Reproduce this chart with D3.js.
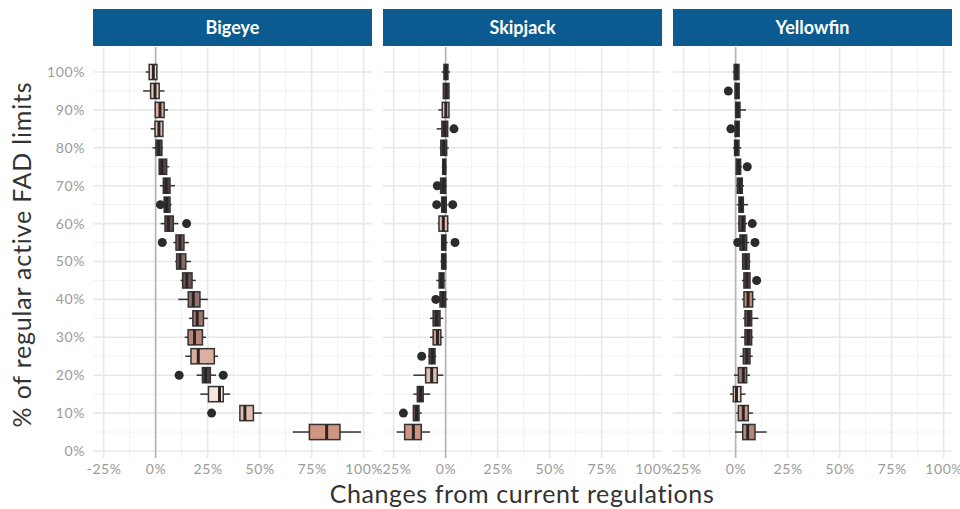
<!DOCTYPE html>
<html>
<head>
<meta charset="utf-8">
<script src="https://cdn.jsdelivr.net/npm/d3@7"></script>
<style>
  body { margin: 0; background: #fff; }
  svg { display: block; font-family: Lato, "Open Sans", sans-serif; }
</style>
</head>
<body>
<div id="chart"></div>
<script>
// FAD limit levels (% of regular active limits)
var levels = [5, 10, 15, 20, 25, 30, 35, 40, 45, 50, 55, 60, 65, 70, 75, 80, 85, 90, 95, 100];
var species = ["Bigeye", "Skipjack", "Yellowfin"];
var xTicks = [-25, 0, 25, 50, 75, 100];
var yTicks = [0, 10, 20, 30, 40, 50, 60, 70, 80, 90, 100];

// [lower whisker, q1, median, q3, upper whisker] per level, in %
var bigeyeStats = [
  [65.9, 73.9, 82.2, 88.6, 98.7], [40.5, 40.5, 42.9, 47.0, 51.0], [21.5, 25.4, 30.7, 32.5, 35.8],
  [19.7, 22.5, 24.0, 26.3, 29.0], [14.3, 17.0, 20.5, 28.2, 30.0], [14.0, 15.6, 18.7, 22.5, 24.2],
  [16.0, 17.9, 20.0, 23.0, 25.1], [10.9, 15.7, 18.1, 21.3, 25.1], [12.0, 13.0, 15.0, 17.5, 19.3],
  [9.3, 10.1, 11.7, 14.5, 17.0], [8.5, 9.8, 11.7, 13.6, 16.0], [2.4, 4.5, 6.1, 8.5, 10.9],
  [4.0, 4.1, 5.3, 6.9, 7.7], [2.1, 3.7, 5.0, 6.9, 9.3], [1.7, 1.7, 3.0, 5.3, 6.5],
  [-1.5, 0.2, 1.5, 3.0, 3.6], [-2.4, -0.3, 1.6, 3.5, 3.5], [-0.2, -0.2, 2.1, 4.1, 6.0],
  [-6.0, -2.4, -0.3, 1.7, 4.3], [-4.8, -3.1, -1.1, 0.6, 0.6]
];
var skipjackStats = [
  [-23.5, -19.7, -15.5, -11.7, -7.5], [-15.5, -15.5, -14.0, -12.8, -11.5], [-15.5, -13.6, -12.1, -10.8, -7.4],
  [-15.5, -9.6, -6.7, -4.0, -1.1], [-8.5, -7.9, -6.3, -5.1, -4.5], [-7.5, -6.0, -3.9, -2.3, -1.1],
  [-7.5, -6.0, -4.3, -2.7, -1.1], [-3.5, -2.7, -1.3, 0.0, 1.0], [-4.5, -3.1, -1.9, -0.8, 0.0],
  [-2.5, -1.9, -0.9, 0.1, 0.5], [-2.2, -1.9, -0.9, 0.1, 1.0], [-3.8, -3.2, -1.1, 1.0, 1.5],
  [-2.5, -1.9, -0.9, 0.3, 1.0], [-2.4, -2.4, -1.0, 0.1, 0.5], [-1.8, -1.4, -0.7, 0.1, 0.5],
  [-2.8, -2.3, -0.9, 0.5, 1.5], [-4.3, -1.8, -0.4, 1.0, 1.0], [-3.5, -1.6, 0.1, 1.6, 1.6],
  [-1.1, -1.1, 0.3, 1.6, 1.6], [-1.9, -0.8, 0.1, 1.1, 2.1]
];
var yellowfinStats = [
  [-0.3, 3.4, 5.8, 9.3, 14.9], [0.3, 1.3, 3.7, 6.1, 8.3], [-2.7, -1.1, 0.4, 2.5, 4.8],
  [-0.8, 1.3, 3.7, 5.3, 6.9], [2.0, 3.7, 5.4, 6.9, 8.2], [2.5, 4.5, 6.1, 7.7, 8.5],
  [3.5, 4.5, 6.3, 7.7, 11.0], [3.0, 4.0, 6.0, 8.2, 9.5], [3.0, 4.0, 5.4, 6.9, 6.9],
  [3.0, 3.4, 5.0, 6.5, 7.2], [2.1, 2.1, 3.7, 5.3, 6.5], [1.0, 1.6, 3.4, 4.5, 5.5],
  [0.5, 1.6, 2.6, 3.7, 6.0], [0.3, 0.8, 2.1, 3.2, 4.0], [0.3, 0.3, 1.4, 2.4, 3.0],
  [-1.3, -0.5, 0.4, 1.6, 2.7], [-0.3, -0.3, 0.8, 1.7, 2.0], [0.0, 0.0, 0.9, 2.1, 5.0],
  [-0.3, -0.3, 0.8, 1.7, 1.7], [-1.4, -0.7, 0.4, 1.6, 1.6]
];

// outliers: [level, value]
var bigeyeOutliers = [[10, 26.9], [20, 11.3], [20, 32.5], [55, 3.2], [60, 14.9], [65, 2.3]];
var skipjackOutliers = [[10, -20.3], [25, -11.5], [40, -4.7], [55, 4.5], [65, -4.3], [65, 3.4], [70, -4.0], [85, 4.0]];
var yellowfinOutliers = [[45, 10.1], [55, 1.0], [55, 9.3], [60, 8.0], [75, 5.6], [85, -2.3], [95, -3.5]];

// fill shade per level (0 = dark, 1 = light peach)
var bigeyeShade = [0.7, 0.85, 1.0, 0.1, 0.8, 0.6, 0.5, 0.45, 0.25, 0.4, 0.3, 0.2, 0.1, 0.1, 0.15, 0.15, 0.85, 0.8, 0.9, 0.95];
var skipjackShade = [0.7, 0.2, 0.1, 0.85, 0.1, 0.7, 0.1, 0.1, 0.1, 0.1, 0.1, 0.85, 0.1, 0.1, 0.1, 0.1, 0.1, 0.9, 0.2, 0.1];
var yellowfinShade = [0.6, 0.7, 0.95, 0.5, 0.2, 0.15, 0.15, 0.65, 0.2, 0.15, 0.15, 0.2, 0.1, 0.1, 0.1, 0.1, 0.1, 0.15, 0.1, 0.15];

var statsBySpecies = [bigeyeStats, skipjackStats, yellowfinStats];
var outliersBySpecies = [bigeyeOutliers, skipjackOutliers, yellowfinOutliers];
var shadeBySpecies = [bigeyeShade, skipjackShade, yellowfinShade];

var width = 960, height = 509;
var panelLeft = [93, 383, 673], panelW = 279;
var stripTop = 9, stripH = 37;
var panelTop = 47, panelBottom = 458;

var svg = d3.select("#chart").append("svg")
  .attr("width", width)
  .attr("height", height);

var y = d3.scaleLinear().domain([-1.85, 106.6]).range([panelBottom, panelTop]);
var boxH = (y(0) - y(5)) * 0.8;

var shadeColor = d3.scaleLinear()
  .domain([0, 0.35, 0.7, 1])
  .range(["#3b3333", "#7d6260", "#cf9482", "#f7e6dc"]);

var pct = function(d) { return d + "%"; };

species.forEach(function(name, i) {
  var x = d3.scaleLinear().domain([-30.1, 104]).range([panelLeft[i], panelLeft[i] + panelW]);
  var g = svg.append("g");

  // minor grid
  var minorX = [-12.5, 12.5, 37.5, 62.5, 87.5];
  var minorY = d3.range(5, 100, 10);
  g.selectAll(".mx").data(minorX).enter().append("line")
    .attr("x1", d => x(d)).attr("x2", d => x(d))
    .attr("y1", panelTop).attr("y2", panelBottom)
    .style("stroke", "#f2f2f2").style("stroke-width", 1);
  g.selectAll(".my").data(minorY).enter().append("line")
    .attr("x1", panelLeft[i]).attr("x2", panelLeft[i] + panelW)
    .attr("y1", d => y(d)).attr("y2", d => y(d))
    .style("stroke", "#f2f2f2").style("stroke-width", 1);

  // major grid
  g.selectAll(".gx").data(xTicks).enter().append("line")
    .attr("x1", d => x(d)).attr("x2", d => x(d))
    .attr("y1", panelTop).attr("y2", panelBottom)
    .style("stroke", "#e8e8e8").style("stroke-width", 1.6);
  g.selectAll(".gy").data(yTicks).enter().append("line")
    .attr("x1", panelLeft[i]).attr("x2", panelLeft[i] + panelW)
    .attr("y1", d => y(d)).attr("y2", d => y(d))
    .style("stroke", "#e8e8e8").style("stroke-width", 1.6);

  // zero reference
  g.append("line")
    .attr("x1", x(0)).attr("x2", x(0))
    .attr("y1", panelTop).attr("y2", panelBottom)
    .style("stroke", "#b5b5b5").style("stroke-width", 1.6);

  // strip
  svg.append("rect")
    .attr("x", panelLeft[i]).attr("y", stripTop)
    .attr("width", panelW).attr("height", stripH)
    .style("fill", "#0b5b91");
  svg.append("text")
    .text(name)
    .attr("x", panelLeft[i] + panelW / 2)
    .attr("y", stripTop + stripH / 2 + 6)
    .attr("text-anchor", "middle")
    .style("fill", "#fff")
    .style("font-size", "18px")
    .style("font-weight", "bold");

  // x axis labels
  var xAxis = d3.axisBottom(x).tickValues(xTicks).tickFormat(pct).tickSize(0).tickPadding(6);
  var ax = svg.append("g").attr("transform", "translate(0," + panelBottom + ")").call(xAxis);
  ax.select(".domain").remove();
  ax.selectAll("text").style("fill", "#9a9a9a").style("font-size", "14px")
    .style("letter-spacing", "0.6px").style("font-family", "Lato, sans-serif");

  var stats = statsBySpecies[i];
  var shade = shadeBySpecies[i];
  var rows = levels.map(function(lv, k) {
    return { level: lv, s: stats[k], shade: shade[k] };
  });

  var box = g.selectAll(".box").data(rows).enter().append("g");

  // whiskers
  box.append("line")
    .attr("x1", d => x(d.s[0])).attr("x2", d => x(d.s[1]))
    .attr("y1", d => y(d.level)).attr("y2", d => y(d.level))
    .style("stroke", "#333").style("stroke-width", 1.5);
  box.append("line")
    .attr("x1", d => x(d.s[3])).attr("x2", d => x(d.s[4]))
    .attr("y1", d => y(d.level)).attr("y2", d => y(d.level))
    .style("stroke", "#333").style("stroke-width", 1.5);

  box.append("rect")
    .attr("x", d => x(d.s[1]))
    .attr("y", d => y(d.level) - boxH / 2)
    .attr("width", d => Math.max(0.5, x(d.s[3]) - x(d.s[1])))
    .attr("height", boxH)
    .style("fill", d => shadeColor(d.shade))
    .style("stroke", "#333")
    .style("stroke-width", 1.5);

  box.append("line")
    .attr("x1", d => x(d.s[2])).attr("x2", d => x(d.s[2]))
    .attr("y1", d => y(d.level) - boxH / 2).attr("y2", d => y(d.level) + boxH / 2)
    .style("stroke", "#2a2424").style("stroke-width", 3);

  g.selectAll(".out").data(outliersBySpecies[i]).enter().append("circle")
    .attr("cx", d => x(d[1]))
    .attr("cy", d => y(d[0]))
    .attr("r", 4.5)
    .style("fill", "#2b2b2b");
});

// y axis labels
var yAxis = d3.axisLeft(y).tickValues(yTicks).tickFormat(pct).tickSize(0).tickPadding(8);
var ay = svg.append("g").attr("transform", "translate(" + (panelLeft[0]) + ",0)").call(yAxis);
ay.select(".domain").remove();
ay.selectAll("text").style("fill", "#9a9a9a").style("font-size", "14px")
  .style("letter-spacing", "0.6px").style("font-family", "Lato, sans-serif");

// axis titles
svg.append("text")
  .text("Changes from current regulations")
  .attr("x", 522)
  .attr("y", 503)
  .attr("text-anchor", "middle")
  .style("fill", "#333")
  .style("font-size", "25px")
  .style("letter-spacing", "0.6px");

svg.append("text")
  .text("% of regular active FAD limits")
  .attr("transform", "translate(31," + ((panelTop + panelBottom) / 2 + 2) + ") rotate(-90)")
  .attr("text-anchor", "middle")
  .style("fill", "#333")
  .style("font-size", "25px")
  .style("letter-spacing", "0.8px");
</script>
</body>
</html>
